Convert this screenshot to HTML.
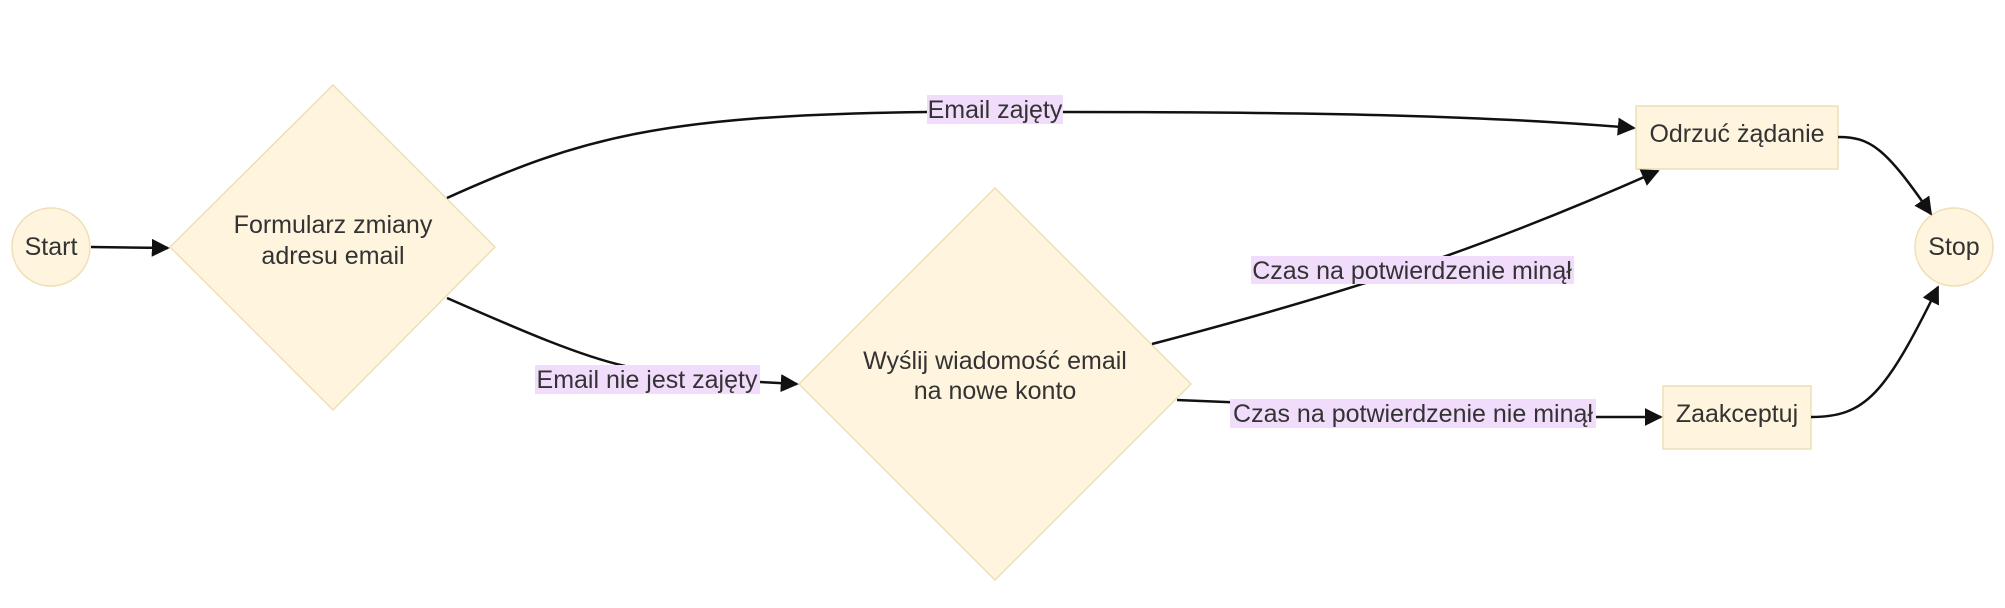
<!DOCTYPE html>
<html><head><meta charset="utf-8"><style>
html,body{margin:0;padding:0;background:#fff}
svg text{font-family:"Liberation Sans",sans-serif;fill:#333;font-size:25px}
</style></head><body>
<svg width="2005" height="603" viewBox="0 0 2005 603" xmlns="http://www.w3.org/2000/svg">
<defs>
<marker id="b" viewBox="0 0 10 10" refX="9" refY="5" markerWidth="18" markerHeight="18" markerUnits="userSpaceOnUse" orient="auto"><path d="M0,0L10,5L0,10z" fill="#111"/></marker></defs>
<g fill="#fff4dd" stroke="#eedfb5" stroke-width="1.5">
<circle cx="51" cy="247" r="39"/>
<polygon points="333,85 495,247 333,410 170,247"/>
<polygon points="995,188 1191,384 995,580 799,384"/>
<rect x="1636" y="106" width="202" height="63"/>
<rect x="1663" y="386" width="148" height="63"/>
<circle cx="1954" cy="247" r="39"/>
</g>
<g fill="none" stroke="#111" stroke-width="2.5">
<path d="M91,247 L168,248" marker-end="url(#b)"/>
<path d="M447,198 C580,138 660,115 927,112 L1063,112 C1300,112 1480,115 1634,128" marker-end="url(#b)"/>
<path d="M447,298 C520,330 580,356 625,366"/>
<path d="M760,382 L797,384" marker-end="url(#b)"/>
<path d="M1152,344 C1350,292 1480,250 1658,171" marker-end="url(#b)"/>
<path d="M1177,400 L1596,417 L1661,417" marker-end="url(#b)"/>
<path d="M1838,137 C1870,137 1885,147 1931,214" marker-end="url(#b)"/>
<path d="M1811,417 C1865,417 1885,395 1938,287" marker-end="url(#b)"/>
</g>
<g fill="#f2dcfc">
<rect x="927" y="95" width="136" height="29"/>
<rect x="535" y="365" width="225" height="29"/>
<rect x="1251" y="256" width="323" height="28"/>
<rect x="1230" y="399" width="366" height="29"/>
</g>
<g text-anchor="middle">
<text x="51" y="255">Start</text>
<text x="333" y="233">Formularz zmiany</text>
<text x="333" y="264">adresu email</text>
<text x="995" y="369">Wyślij wiadomość email</text>
<text x="995" y="399">na nowe konto</text>
<text x="1737" y="142">Odrzuć żądanie</text>
<text x="1737" y="422">Zaakceptuj</text>
<text x="1954" y="255">Stop</text>
<text x="995" y="118">Email zajęty</text>
<text x="647" y="388">Email nie jest zajęty</text>
<text x="1412" y="279">Czas na potwierdzenie minął</text>
<text x="1413" y="422">Czas na potwierdzenie nie minął</text>
</g>
</svg>
</body></html>
